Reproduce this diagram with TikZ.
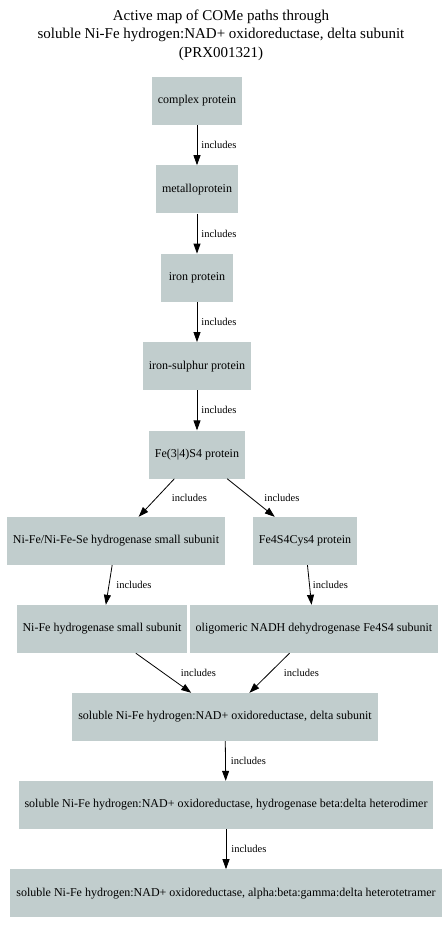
\documentclass[tikz,border=0pt]{standalone}
\usepackage{fontspec}
\setmainfont{Liberation Serif}
\usetikzlibrary{arrows.meta,positioning}
\definecolor{boxgrey}{RGB}{193,205,205}

\begin{document}
\begin{tikzpicture}[x=1pt, y=1pt, node distance=40pt,
  pbox/.style={fill=boxgrey, minimum width=72pt, minimum height=48pt,
    inner xsep=6pt, inner ysep=0pt, font=\fontsize{12}{14}\selectfont},
  incl/.style={-{Triangle[length=10pt,width=7pt]}, line width=0.8pt},
  lbl/.style={font=\fontsize{10.5}{12}\selectfont, inner sep=0pt, anchor=west}]
  \useasboundingbox (0,0) rectangle (442,-934);
  \node (title) at (221,-35) [align=center, font=\fontsize{15}{18.5}\selectfont]
    {Active map of COMe paths through\\soluble Ni-Fe hydrogen:NAD+ oxidoreductase, delta subunit\\(PRX001321)};
  % main chain
  \node (cplx) [pbox] at (197,-101) {complex protein};
  \node (metal) [pbox, below=of cplx] {metalloprotein};
  \node (iron) [pbox, below=of metal] {iron protein};
  \node (fes) [pbox, below=of iron] {iron-sulphur protein};
  \node (fe34) [pbox, below=of fes] {Fe(3|4)S4 protein};
  % two branches
  \node (nifese) [pbox] at (116,-541) {Ni-Fe/Ni-Fe-Se hydrogenase small subunit};
  \node (fe4s4) [pbox] at (305,-541) {Fe4S4Cys4 protein};
  \node (nifess) [pbox] at (102,-629) {Ni-Fe hydrogenase small subunit};
  \node (olig) [pbox] at (314,-629) {oligomeric NADH dehydrogenase Fe4S4 subunit};
  % complexes
  \node (delta) [pbox] at (225,-717) {soluble Ni-Fe hydrogen:NAD+ oxidoreductase, delta subunit};
  \node (dimer) [pbox] at (226,-805) {soluble Ni-Fe hydrogen:NAD+ oxidoreductase, hydrogenase beta:delta heterodimer};
  \node (tetra) [pbox, below=of dimer] {soluble Ni-Fe hydrogen:NAD+ oxidoreductase, alpha:beta:gamma:delta heterotetramer};

  \draw[incl] (cplx) -- node[lbl, midway, xshift=4pt] {includes} (metal);
  \draw[incl] (metal) -- node[lbl, midway, xshift=4pt] {includes} (iron);
  \draw[incl] (iron) -- node[lbl, midway, xshift=4pt] {includes} (fes);
  \draw[incl] (fes) -- node[lbl, midway, xshift=4pt] {includes} (fe34);
  \draw[incl] (fe34) -- node[lbl, midway, xshift=15pt] {includes} (nifese);
  \draw[incl] (fe34) -- node[lbl, midway, xshift=13pt] {includes} (fe4s4);
  \draw[incl] (nifese) -- node[lbl, midway, xshift=7pt] {includes} (nifess);
  \draw[incl] (fe4s4) -- node[lbl, midway, xshift=3pt] {includes} (olig);
  \draw[incl] (nifess) -- node[lbl, midway, xshift=17pt] {includes} (delta);
  \draw[incl] (olig) -- node[lbl, midway, xshift=14pt] {includes} (delta);
  \draw[incl] (delta) -- node[lbl, midway, xshift=5pt] {includes} (dimer);
  \draw[incl] (dimer) -- node[lbl, midway, xshift=5pt] {includes} (tetra);
\end{tikzpicture}
\end{document}
